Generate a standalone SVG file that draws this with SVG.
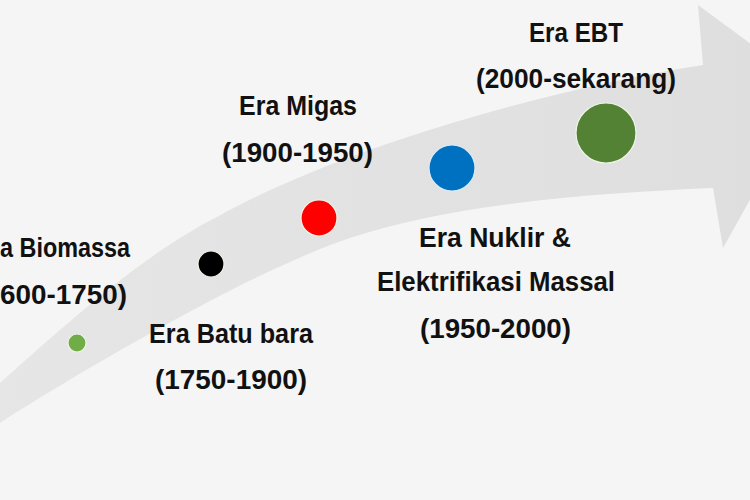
<svg xmlns="http://www.w3.org/2000/svg" width="750" height="500" viewBox="0 0 750 500">
  <defs>
    <linearGradient id="bandGrad" x1="0" y1="0" x2="1" y2="0">
      <stop offset="0" stop-color="#e6e6e6"/>
      <stop offset="1" stop-color="#dedede"/>
    </linearGradient>
    <style>
      .lbl { font-family: "Liberation Sans", Arial, sans-serif; font-weight: bold; font-size: 27px; fill: #111111; }
      .dot { stroke: #eef4e6; stroke-width: 1.2; }
    </style>
  </defs>
  <rect x="0" y="0" width="750" height="500" fill="#f5f5f5"/>

  <g id="connectors">
    <path id="timeline-arrow" fill="url(#bandGrad)"
      d="M -25 405 L 0 383 C 70 320 147 252 217 217 C 337 150 543 90 703 65 L 698 5 L 812 89 L 723 248 L 713 188 C 593 193 450 204 350 238 C 250 271 70 378 0 423 L -25 440 Z"/>
  </g>

  <g id="era-biomassa">
    <circle class="dot" cx="77" cy="343" r="9" fill="#70ad47"/>
    <text class="lbl" x="0" y="257" textLength="130" lengthAdjust="spacingAndGlyphs">a Biomassa</text>
    <text class="lbl" x="0" y="304" textLength="127" lengthAdjust="spacingAndGlyphs">600-1750)</text>
  </g>

  <g id="era-batubara">
    <circle class="dot" cx="211" cy="264" r="13" fill="#000000"/>
    <text class="lbl" x="149" y="343" textLength="164" lengthAdjust="spacingAndGlyphs">Era Batu bara</text>
    <text class="lbl" x="155" y="389" textLength="152" lengthAdjust="spacingAndGlyphs">(1750-1900)</text>
  </g>

  <g id="era-migas">
    <circle class="dot" cx="319" cy="218" r="18" fill="#ff0000"/>
    <text class="lbl" x="239" y="115" textLength="118" lengthAdjust="spacingAndGlyphs">Era Migas</text>
    <text class="lbl" x="222" y="162" textLength="151" lengthAdjust="spacingAndGlyphs">(1900-1950)</text>
  </g>

  <g id="era-nuklir">
    <circle class="dot" cx="452" cy="168" r="23" fill="#0070c0" style="stroke:#dcebf7"/>
    <text class="lbl" x="419" y="247" textLength="152" lengthAdjust="spacingAndGlyphs">Era Nuklir &amp;</text>
    <text class="lbl" x="377" y="291" textLength="238" lengthAdjust="spacingAndGlyphs">Elektrifikasi Massal</text>
    <text class="lbl" x="420" y="338" textLength="151" lengthAdjust="spacingAndGlyphs">(1950-2000)</text>
  </g>

  <g id="era-ebt">
    <circle class="dot" cx="606" cy="133" r="30" fill="#548235"/>
    <text class="lbl" x="529" y="42" textLength="94" lengthAdjust="spacingAndGlyphs">Era EBT</text>
    <text class="lbl" x="476" y="88" textLength="200" lengthAdjust="spacingAndGlyphs">(2000-sekarang)</text>
  </g>
</svg>
